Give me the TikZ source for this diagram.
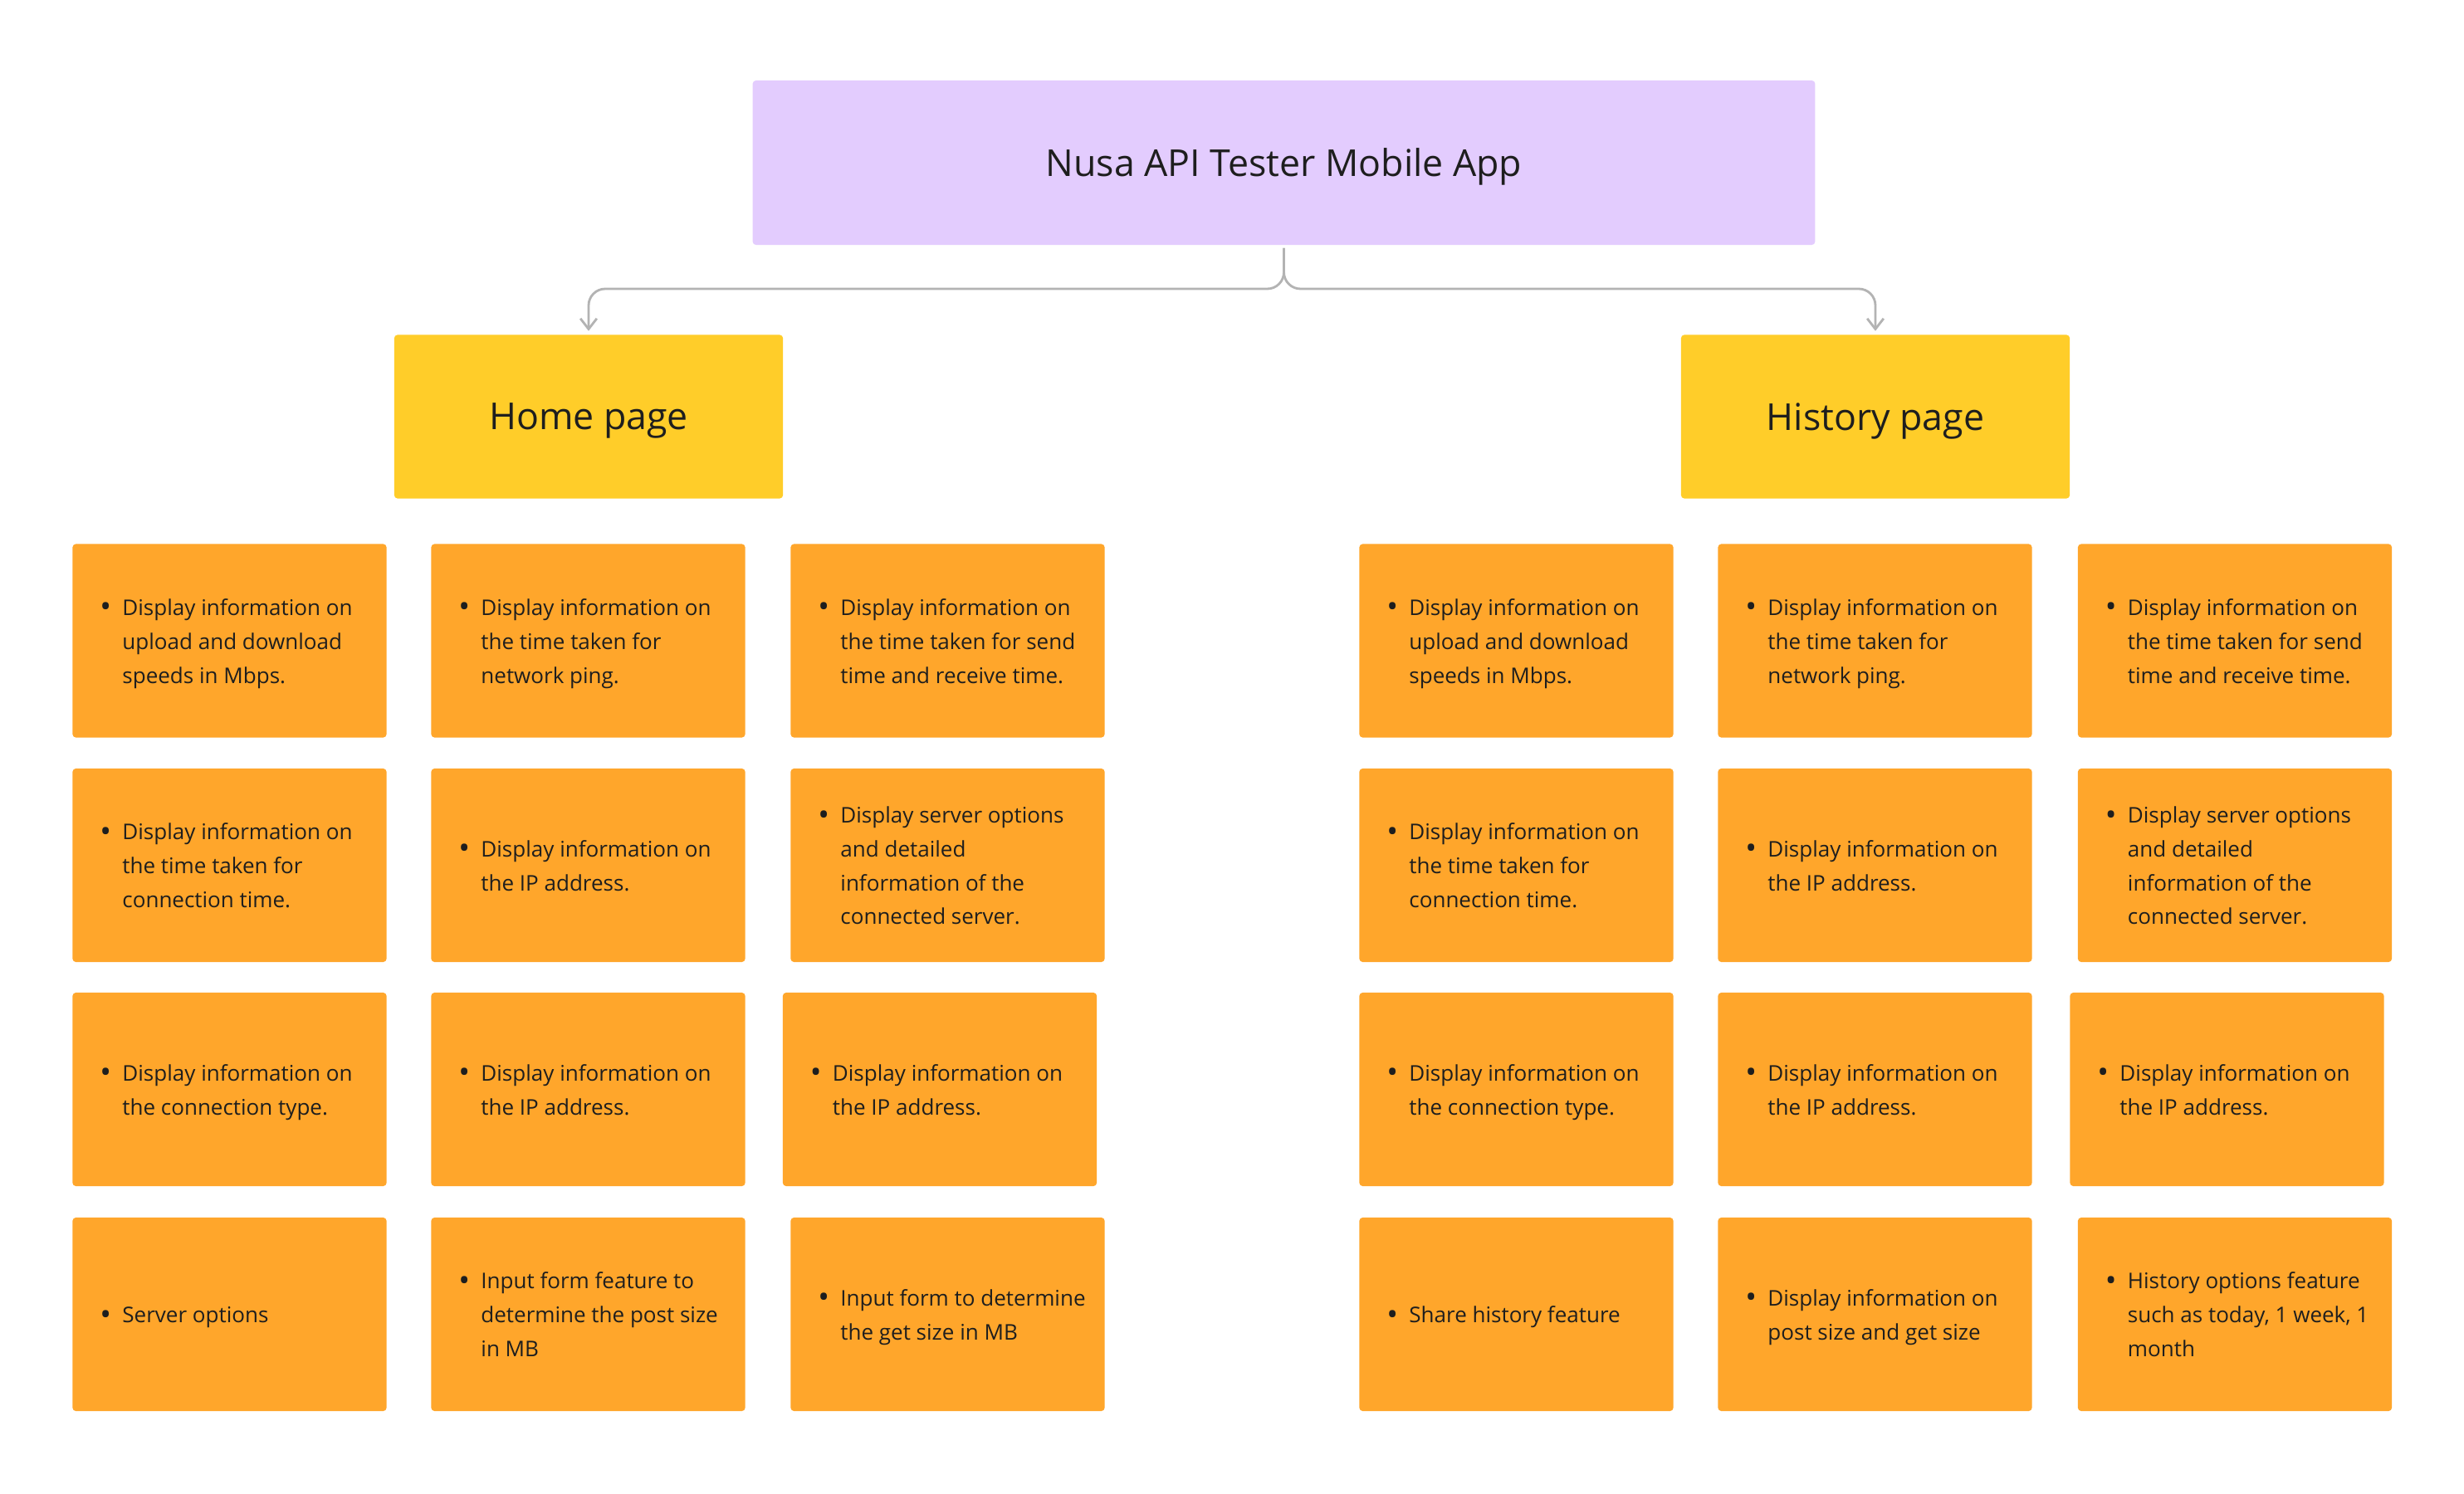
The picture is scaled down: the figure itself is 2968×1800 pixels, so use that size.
\documentclass[tikz,border=0pt]{standalone}
\usepackage{fontspec}
\setmainfont{Open Sans}
\usetikzlibrary{arrows.meta}

\definecolor{apppurple}{HTML}{E3CCFE}
\definecolor{pageyellow}{HTML}{FFCD29}
\definecolor{featorange}{HTML}{FFA62B}
\definecolor{linkgray}{HTML}{B3B3B3}
\definecolor{inkdark}{HTML}{1E1E1E}

% one bullet point, lines broken as in the board
\newcommand{\featitem}[1]{\makebox[3.78cm][l]{\hspace{0.33cm}\makebox[0.27cm][l]{\raisebox{-0.7pt}{\scalebox{1.4}{\textbullet}}}\parbox[t]{3.1cm}{\raggedright\rule{0pt}{9.3pt}#1\strut}}}

\begin{document}
\begin{tikzpicture}[x=0.01cm, y=-0.01cm,
	app/.style={fill=apppurple, rounded corners=0.04cm, minimum width=12.79cm, minimum height=1.98cm, text depth=0pt, font=\fontsize{12.7pt}{15pt}\selectfont, text=inkdark},
	page/.style={fill=pageyellow, rounded corners=0.04cm, minimum width=4.68cm, minimum height=1.97cm, text depth=0pt, font=\fontsize{12.7pt}{15pt}\selectfont, text=inkdark},
	feat/.style={fill=featorange, rounded corners=0.04cm, inner sep=0pt, minimum width=3.78cm, minimum height=2.33cm, font=\fontsize{7.4pt}{11.6pt}\selectfont, text=inkdark},
	link/.style={draw=linkgray, line width=0.8pt, rounded corners=0.2cm, shorten <=0.03cm, shorten >=0.04cm, -{Straight Barb[length=3.6pt, width=5.6pt]}}]
	\fill[white] (0, 0) rectangle (2968, 1800);
	\useasboundingbox (0, 0) rectangle (2968, 1800);
	
	\node[app] (app) at (1546.5, 196) {Nusa API Tester Mobile App};
	\node[page] (home) at (709, 502) {Home page};
	\node[page] (history) at (2259, 502) {History page};
	
	\coordinate (split) at (1546.5, 348);
	\draw[link] (app.south) |- (home.north |- split) -- (home.north);
	\draw[link] (app.south) |- (history.north |- split) -- (history.north);
	
	% home page
	\node[feat] (h11) at (276.5, 772) {\featitem{Display information on\\upload and download\\speeds in Mbps.}};
	\node[feat] (h12) at (708.5, 772) {\featitem{Display information on\\the time taken for\\network ping.}};
	\node[feat] (h13) at (1141.5, 772) {\featitem{Display information on\\the time taken for send\\time and receive time.}};
	\node[feat] (h21) at (276.5, 1042.5) {\featitem{Display information on\\the time taken for\\connection time.}};
	\node[feat] (h22) at (708.5, 1042.5) {\featitem{Display information on\\the IP address.}};
	\node[feat] (h23) at (1141.5, 1042.5) {\featitem{Display server options\\and detailed\\information of the\\connected server.}};
	\node[feat] (h31) at (276.5, 1312.5) {\featitem{Display information on\\the connection type.}};
	\node[feat] (h32) at (708.5, 1312.5) {\featitem{Display information on\\the IP address.}};
	\node[feat] (h33) at (1132, 1312.5) {\featitem{Display information on\\the IP address.}};
	\node[feat] (h41) at (276.5, 1583.5) {\featitem{Server options}};
	\node[feat] (h42) at (708.5, 1583.5) {\featitem{Input form feature to\\determine the post size\\in MB}};
	\node[feat] (h43) at (1141.5, 1583.5) {\featitem{Input form to determine\\the get size in MB}};
	
	% history page
	\node[feat] (s11) at (1826.5, 772) {\featitem{Display information on\\upload and download\\speeds in Mbps.}};
	\node[feat] (s12) at (2258.5, 772) {\featitem{Display information on\\the time taken for\\network ping.}};
	\node[feat] (s13) at (2692, 772) {\featitem{Display information on\\the time taken for send\\time and receive time.}};
	\node[feat] (s21) at (1826.5, 1042.5) {\featitem{Display information on\\the time taken for\\connection time.}};
	\node[feat] (s22) at (2258.5, 1042.5) {\featitem{Display information on\\the IP address.}};
	\node[feat] (s23) at (2692, 1042.5) {\featitem{Display server options\\and detailed\\information of the\\connected server.}};
	\node[feat] (s31) at (1826.5, 1312.5) {\featitem{Display information on\\the connection type.}};
	\node[feat] (s32) at (2258.5, 1312.5) {\featitem{Display information on\\the IP address.}};
	\node[feat] (s33) at (2682.5, 1312.5) {\featitem{Display information on\\the IP address.}};
	\node[feat] (s41) at (1826.5, 1583.5) {\featitem{Share history feature}};
	\node[feat] (s42) at (2258.5, 1583.5) {\featitem{Display information on\\post size and get size}};
	\node[feat] (s43) at (2692, 1583.5) {\featitem{History options feature\\such as today, 1 week, 1\\month}};
\end{tikzpicture}
\end{document}
